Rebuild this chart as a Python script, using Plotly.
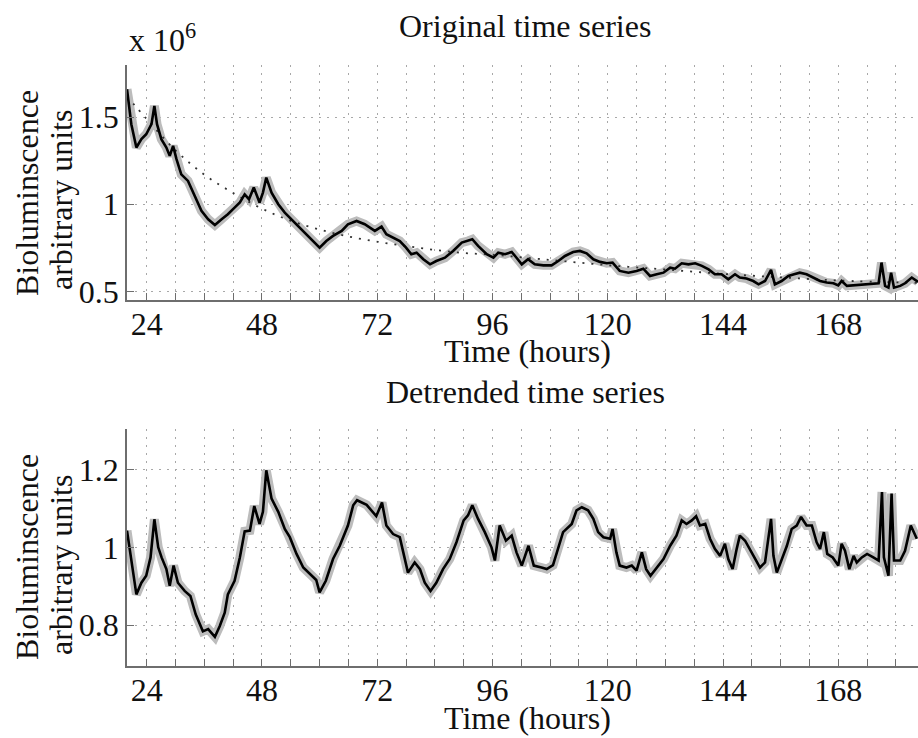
import plotly.graph_objects as go

# ---------------- data ----------------
hour_major = [24, 48, 72, 96, 120, 144, 168]
hour_major_labels = ["24", "48", "72", "96", "120", "144", "168"]
hour_minor = list(range(24, 181, 6))

orig_t = [19.9, 20.8, 21.85, 22.9, 23.9, 25.0, 25.6, 26.15, 27.05, 28.1,
          28.8, 29.5, 30.2, 31.2, 32.6, 34.0, 35.4, 36.8, 38.2, 39.6,
          40.9, 42.3, 43.4, 44.4, 45.3, 46.3, 47.5, 48.2, 48.9, 50.0,
          51.4, 52.75, 54.1, 55.9, 57.3, 58.7, 60.0, 61.4, 62.8, 64.6,
          65.9, 67.7, 69.4, 71.5, 72.9, 73.9, 75.3, 76.7, 78.0, 79.1,
          80.2, 81.6, 83.0, 84.3, 86.1, 87.8, 89.6, 90.9, 91.8, 93.0,
          94.8, 96.2, 97.2, 98.6, 100.0, 101.0, 102.1, 103.4, 104.8, 106.6,
          108.3, 109.7, 111.1, 112.8, 114.2, 115.6, 117.0, 118.4, 119.8, 121.0,
          122.5, 124.3, 126.0, 127.4, 128.8, 130.2, 131.6, 133.0, 134.0, 135.4,
          136.8, 138.2, 139.6, 141.0, 142.3, 143.7, 145.1, 146.5, 147.5, 148.9,
          150.3, 151.4, 152.75, 154.0, 154.8, 156.2, 157.6, 158.8, 160.0, 161.4,
          162.8, 164.2, 165.6, 167.0, 168.0, 168.7, 169.8, 171.2, 172.5, 174.0,
          175.3, 176.4, 177.0, 177.75, 178.45, 179.0, 179.6, 180.9, 181.9, 183.3,
          184.6]
orig_v = [1.661, 1.460, 1.326, 1.374, 1.402, 1.460, 1.565, 1.460, 1.374, 1.326,
          1.278, 1.335, 1.259, 1.172, 1.134, 1.048, 0.962, 0.914, 0.881, 0.914,
          0.943, 0.981, 1.010, 1.057, 1.029, 1.096, 1.010, 1.067, 1.153, 1.067,
          1.000, 0.952, 0.914, 0.866, 0.828, 0.789, 0.751, 0.789, 0.818, 0.847,
          0.885, 0.904, 0.885, 0.847, 0.872, 0.828, 0.808, 0.789, 0.751, 0.713,
          0.722, 0.684, 0.655, 0.674, 0.693, 0.732, 0.780, 0.789, 0.799, 0.761,
          0.713, 0.693, 0.722, 0.713, 0.726, 0.693, 0.655, 0.684, 0.655, 0.649,
          0.649, 0.674, 0.703, 0.726, 0.732, 0.718, 0.684, 0.669, 0.661, 0.665,
          0.617, 0.607, 0.617, 0.630, 0.588, 0.598, 0.607, 0.636, 0.630, 0.661,
          0.655, 0.661, 0.646, 0.626, 0.598, 0.598, 0.569, 0.598, 0.579, 0.573,
          0.559, 0.540, 0.559, 0.623, 0.540, 0.559, 0.588, 0.598, 0.607, 0.598,
          0.579, 0.559, 0.550, 0.546, 0.534, 0.559, 0.531, 0.534, 0.538, 0.538,
          0.540, 0.546, 0.665, 0.531, 0.521, 0.607, 0.521, 0.531, 0.546, 0.579,
          0.554]

trend_t = [19.9, 24, 30, 36, 42, 48, 54, 60, 66, 72, 78, 84, 90, 96, 108,
           120, 132, 144, 156, 168, 184.6]
trend_v = [1.62, 1.49, 1.31, 1.17, 1.065, 0.975, 0.905, 0.855, 0.815, 0.785,
           0.76, 0.738, 0.72, 0.71, 0.68, 0.65, 0.625, 0.60, 0.58, 0.562, 0.548]

det_t = [19.9, 21.85, 22.9, 23.9, 24.8, 25.6, 26.4, 27.1, 28.1, 28.8,
         29.6, 30.5, 31.9, 33.1, 34.2, 35.7, 36.8, 38.2, 39.2, 40.25,
         40.9, 42.3, 43.4, 44.4, 45.5, 46.4, 47.5, 48.2, 48.9, 50.0,
         51.4, 52.75, 53.8, 55.2, 56.6, 58.3, 59.3, 60.0, 61.3, 62.8,
         64.2, 65.9, 67.0, 67.8, 69.8, 71.8, 73.0, 73.9, 75.3, 76.7,
         78.4, 79.8, 80.9, 81.9, 83.1, 84.3, 85.7, 87.1, 88.5, 90.0,
         90.9, 91.8, 93.0, 94.4, 95.8, 96.5, 97.5, 98.8, 100.0, 101.0,
         102.1, 103.5, 104.6, 106.2, 107.3, 108.6, 109.7, 110.7, 112.5, 113.5,
         114.6, 115.9, 117.0, 118.0, 119.1, 120.5, 121.0, 121.8, 122.5, 123.9,
         125.0, 126.0, 127.1, 128.0, 128.9, 130.2, 131.6, 133.0, 134.3, 135.4,
         136.4, 137.5, 138.4, 139.2, 140.3, 141.3, 142.3, 143.4, 144.4, 145.1,
         146.0, 146.85, 147.5, 148.6, 149.6, 150.7, 151.7, 152.75, 154.0, 154.5,
         155.2, 156.2, 157.3, 158.3, 159.35, 160.25, 161.4, 162.5, 163.5, 164.2,
         165.0, 165.7, 166.85, 168.0, 168.7, 169.4, 170.3, 171.2, 171.85, 172.9,
         174.0, 175.3, 176.4, 177.1, 177.5, 178.45, 179.1, 179.6, 180.9, 181.9,
         183.1, 184.35]
det_v = [1.043, 0.879, 0.909, 0.927, 0.974, 1.072, 1.000, 0.974, 0.944, 0.901,
         0.953, 0.909, 0.888, 0.875, 0.828, 0.784, 0.790, 0.770, 0.797, 0.832,
         0.879, 0.914, 0.974, 1.041, 1.043, 1.106, 1.060, 1.091, 1.198, 1.125,
         1.091, 1.047, 1.026, 0.983, 0.948, 0.927, 0.916, 0.884, 0.914, 0.970,
         1.004, 1.056, 1.108, 1.121, 1.109, 1.080, 1.115, 1.056, 1.034, 1.026,
         0.935, 0.961, 0.944, 0.909, 0.888, 0.909, 0.944, 0.970, 1.013, 1.069,
         1.082, 1.108, 1.073, 1.039, 1.000, 0.966, 1.056, 1.017, 1.030, 0.987,
         0.953, 1.004, 0.953, 0.948, 0.944, 0.954, 0.996, 1.039, 1.060, 1.095,
         1.103, 1.095, 1.073, 1.039, 1.026, 1.022, 1.047, 0.987, 0.953, 0.948,
         0.953, 0.940, 0.987, 0.944, 0.927, 0.948, 0.970, 1.004, 1.030, 1.069,
         1.060, 1.069, 1.080, 1.056, 1.060, 1.022, 0.996, 0.978, 1.009, 0.970,
         0.944, 0.996, 1.030, 1.017, 0.996, 0.970, 0.948, 0.961, 1.073, 0.978,
         0.935, 0.970, 1.004, 1.047, 1.056, 1.078, 1.056, 1.056, 1.013, 0.996,
         1.039, 0.983, 0.974, 0.953, 1.009, 0.991, 0.944, 0.978, 0.961, 0.974,
         0.983, 0.974, 0.966, 1.142, 0.974, 0.927, 1.138, 0.966, 0.966, 0.991,
         1.056, 1.022]

top_yticks = [0.5, 1.0, 1.5]
top_ylabels = ["0.5", "1", "1.5"]
bot_yticks = [0.8, 1.0, 1.2]
bot_ylabels = ["0.8", "1", "1.2"]

# ---------------- figure ----------------
FONT = "Liberation Serif, Times New Roman, serif"
FS = 32
W, H = 918, 738
ML = 127

fig = go.Figure()

band = dict(color="#bcbcbc", width=9)
main = dict(color="#000000", width=2.6)

fig.add_trace(go.Scatter(x=orig_t, y=orig_v, mode="lines", line=band,
                         xaxis="x", yaxis="y", hoverinfo="skip"))
fig.add_trace(go.Scatter(x=trend_t, y=trend_v, mode="lines",
                         line=dict(color="#333333", width=1.8, dash="2px,7px", shape="spline"),
                         xaxis="x", yaxis="y"))
fig.add_trace(go.Scatter(x=orig_t, y=orig_v, mode="lines", line=main,
                         xaxis="x", yaxis="y"))

fig.add_trace(go.Scatter(x=det_t, y=det_v, mode="lines", line=band,
                         xaxis="x2", yaxis="y2", hoverinfo="skip"))
fig.add_trace(go.Scatter(x=det_t, y=det_v, mode="lines", line=main,
                         xaxis="x2", yaxis="y2"))

axcol = "#6e6e6e"
gridcol = "#a8a8a8"
common_x = dict(range=[19.9, 184.6], tickmode="array", tickvals=hour_major,
                ticktext=hour_major_labels, ticks="inside", ticklen=7, tickcolor=axcol,
                tickwidth=1.3, showline=True, linecolor=axcol, linewidth=1.6,
                showgrid=True, gridcolor=gridcol, griddash="2px,6px", gridwidth=1,
                minor=dict(tickmode="array", tickvals=hour_minor, ticks="inside",
                           ticklen=7, tickcolor=axcol, tickwidth=1.3, showgrid=True,
                           gridcolor=gridcol, griddash="2px,6px", gridwidth=1),
                zeroline=False, automargin=False, ticklabelstandoff=-5,
                tickfont=dict(family=FONT, size=FS, color="#111111"))
common_y = dict(ticks="inside", ticklen=7, tickcolor=axcol, tickwidth=1.3,
                showline=True, linecolor=axcol, linewidth=1.6,
                showgrid=True, gridcolor=gridcol, griddash="2px,6px", gridwidth=1,
                zeroline=False, automargin=False, tickmode="array",
                tickfont=dict(family=FONT, size=FS, color="#111111"))


def py(px):
    return 1 - px / H


def pxx(px):
    return (px - ML) / (W - ML)


fig.update_layout(
    width=W, height=H,
    margin=dict(l=ML, r=0, t=0, b=0),
    paper_bgcolor="white", plot_bgcolor="white",
    showlegend=False,
    font=dict(family=FONT, size=FS, color="#111111"),
    xaxis=dict(common_x, anchor="y", domain=[0, 1]),
    yaxis=dict(common_y, domain=[py(300), py(65)], range=[0.45, 1.8],
               tickvals=top_yticks, ticktext=top_ylabels),
    xaxis2=dict(common_x, anchor="y2", domain=[0, 1]),
    yaxis2=dict(common_y, domain=[py(666), py(429)], range=[0.695, 1.304],
                tickvals=bot_yticks, ticktext=bot_ylabels),
)

ann = []


def text(t, x, y, xanchor="center", yanchor="middle", angle=0):
    ann.append(dict(text=t, x=pxx(x), y=py(y), xref="paper", yref="paper",
                    xanchor=xanchor, yanchor=yanchor, textangle=angle,
                    showarrow=False, font=dict(family=FONT, size=FS, color="#111111")))


text("Original time series", 525, 26)
text("Detrended time series", 525, 392)
text("Time (hours)", 527, 351)
text("Time (hours)", 527, 718)
text("x 10<sup>6</sup>", 127, 60, xanchor="left", yanchor="bottom")
text("Bioluminscence", 27, 193, angle=-90)
text("arbitrary units", 61, 200, angle=-90)
text("Bioluminscence", 27, 557, angle=-90)
text("arbitrary units", 61, 565, angle=-90)

fig.update_layout(annotations=ann)

fig.write_html("out.html")
